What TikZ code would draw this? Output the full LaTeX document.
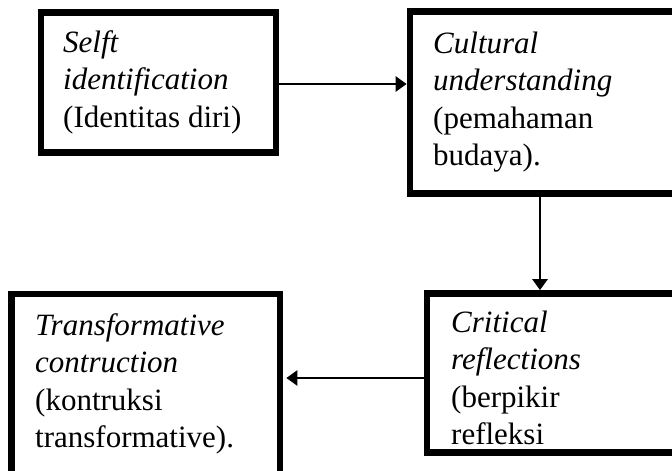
\documentclass[tikz,border=0pt]{standalone}
\usepackage{fontspec}
\setmainfont{Liberation Serif}
\usetikzlibrary{arrows.meta}
\tikzset{
  box/.style={draw=black, line width=6.7pt, rectangle, inner sep=0pt, fill=white},
  txt/.style={anchor=base west, inner sep=0pt, font=\fontsize{31}{37.5}\selectfont},
  conn/.style={line width=2.6pt, -{Triangle[length=11pt,width=15pt]}}
}
\begin{document}
\begin{tikzpicture}[x=1pt,y=-1pt]
\useasboundingbox (0,0) rectangle (672,471);
\begin{scope}
\clip (0,0) rectangle (672,471);
\node[box, minimum width=235pt, minimum height=139.6pt] (b1) at (158.5,82.5) {};
\node[box, minimum width=290pt, minimum height=181.6pt] (b2) at (555,102.5) {};
\node[box, minimum width=268.3pt, minimum height=220pt] (b3) at (145.85,404) {};
\node[box, minimum width=273pt, minimum height=159pt] (b4) at (563.5,373) {};
\end{scope}
\node[txt] (t1) at (63,52) {\vtop{\hbox{\itshape Selft}\hbox{\itshape identification}\hbox{(Identitas diri)}}};
\node[txt] (t2) at (433,53) {\vtop{\hbox{\itshape Cultural}\hbox{\itshape understanding}\hbox{(pemahaman}\hbox{budaya).}}};
\node[txt] (t3) at (35,335) {\vtop{\hbox{\itshape Transformative}\hbox{\itshape contruction}\hbox{(kontruksi}\hbox{transformative).}}};
\node[txt] (t4) at (451,332) {\vtop{\hbox{\itshape Critical}\hbox{\itshape reflections}\hbox{(berpikir}\hbox{refleksi}}};
\coordinate (ya) at (0,84);
\coordinate (xb) at (540,0);
\coordinate (yc) at (0,378);
\draw[conn] (b1.east |- ya) -- (b2.west |- ya);
\draw[conn] (b2.south -| xb) -- (b4.north -| xb);
\draw[conn, shorten >=3pt] (b4.west |- yc) -- (b3.east |- yc);
\end{tikzpicture}
\end{document}
